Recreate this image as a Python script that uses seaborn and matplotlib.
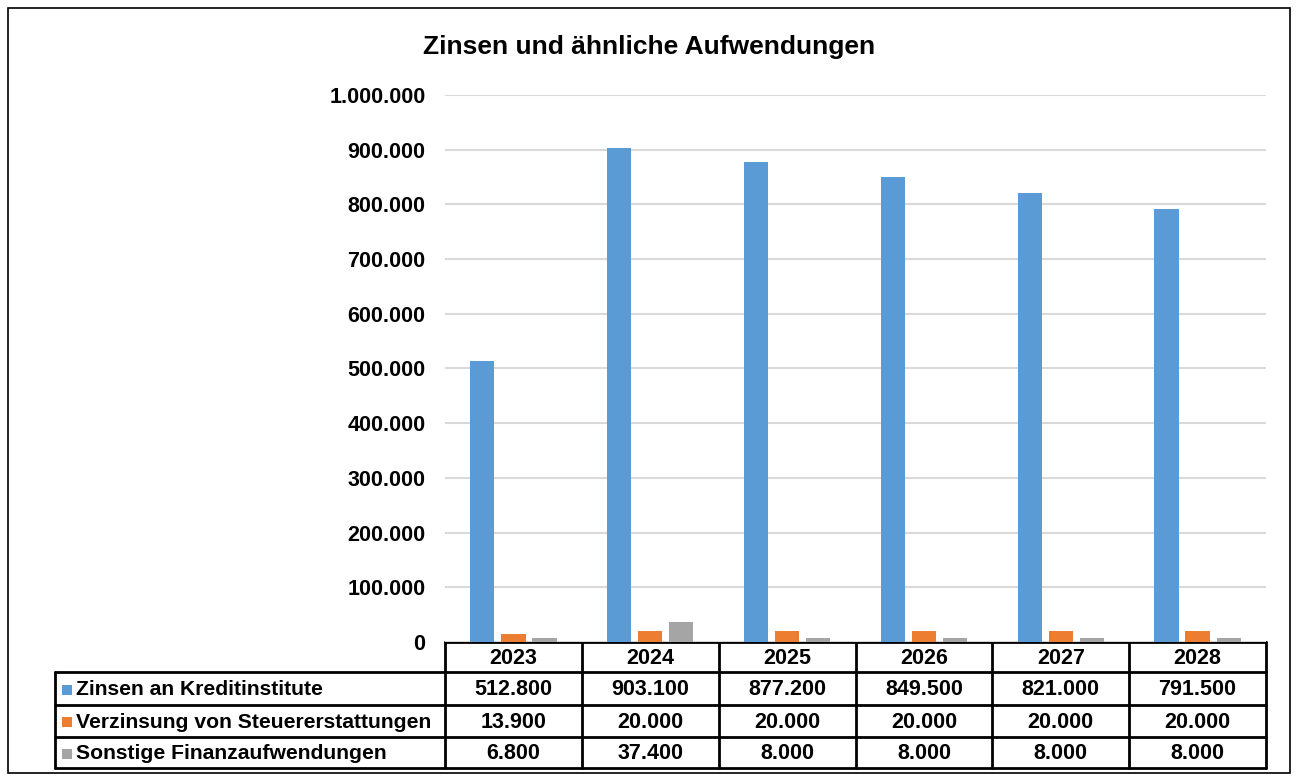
import pandas as pd
import matplotlib.pyplot as plt
import seaborn as sns
from matplotlib.patches import Rectangle

years = ["2023", "2024", "2025", "2026", "2027", "2028"]
series = ["Zinsen an Kreditinstitute", "Verzinsung von Steuererstattungen", "Sonstige Finanzaufwendungen"]
zinsen_kredit = [512800, 903100, 877200, 849500, 821000, 791500]
verzinsung_steuer = [13900, 20000, 20000, 20000, 20000, 20000]
sonstige = [6800, 37400, 8000, 8000, 8000, 8000]
colors = ["#5B9BD5", "#ED7D31", "#A5A5A5"]
title = "Zinsen und ähnliche Aufwendungen"

W, H = 1298, 776
FS = 15.5


def de_fmt(v):
    return f"{v:,.0f}".replace(",", ".")


def build_frame():
    rows = []
    for name, vals in zip(series, [zinsen_kredit, verzinsung_steuer, sonstige]):
        for y, v in zip(years, vals):
            rows.append({"Jahr": y, "Reihe": name, "Wert": v})
    return pd.DataFrame(rows)


def plot_data(df):
    sns.set_style("white")
    plt.rcParams["font.family"] = ["Liberation Sans", "DejaVu Sans"]
    plt.rcParams["text.color"] = "black"
    plt.rcParams["ytick.color"] = "black"
    fig = plt.figure(figsize=(W / 100, H / 100), dpi=100)

    # overlay in pixel coordinates for frame + table
    ov = fig.add_axes([0, 0, 1, 1])
    ov.set_xlim(0, W)
    ov.set_ylim(H, 0)
    ov.axis("off")

    left, right, bottom, top = 445, 1266, 642, 95
    ax = fig.add_axes([left / W, 1 - bottom / H, (right - left) / W, (bottom - top) / H])
    sns.barplot(data=df, x="Jahr", y="Wert", hue="Reihe", order=years, hue_order=series,
                palette=colors, width=0.68, gap=0.22, saturation=1, linewidth=0,
                legend=False, ax=ax)
    ax.set_ylim(0, 1000000)
    ax.set_xlim(-0.5, len(years) - 0.5)
    ax.set_yticks(range(0, 1000001, 100000))
    ax.set_yticklabels([de_fmt(v) for v in range(0, 1000001, 100000)],
                       fontsize=FS, fontweight="bold", color="black")
    ax.tick_params(axis="y", length=0, pad=14)
    ax.set_xticks([])
    ax.set_xlabel("")
    ax.set_ylabel("")
    ax.grid(axis="y", color="#d9d9d9", lw=1.5)
    ax.set_axisbelow(True)
    for s in ax.spines.values():
        s.set_visible(False)
    ax.patch.set_alpha(0)

    fig.text(0.5, 1 - 47 / H, title, ha="center", va="center", fontsize=19,
             fontweight="bold", color="black")

    # outer frame
    ov.add_patch(Rectangle((8, 8), 1282, 765, fill=False, ec="black", lw=1.2))

    # data table
    col_w = (right - left) / len(years)
    row_edges = [642, 672, 705, 737, 768]
    lab_left = 55
    lw = 2
    ov.plot([left, right], [row_edges[0], row_edges[0]], color="black", lw=lw)
    for r in row_edges[1:]:
        ov.plot([lab_left, right], [r, r], color="black", lw=lw)
    for i in range(len(years) + 1):
        x = left + i * col_w
        ov.plot([x, x], [row_edges[0], row_edges[-1]], color="black", lw=lw)
    ov.plot([lab_left, lab_left], [row_edges[1], row_edges[-1]], color="black", lw=lw)

    for i, y in enumerate(years):
        ov.text(left + (i + 0.5) * col_w, (row_edges[0] + row_edges[1]) / 2 + 1, y,
                ha="center", va="center", fontsize=FS, fontweight="bold", color="black")
    for j, (name, vals) in enumerate(zip(series, [zinsen_kredit, verzinsung_steuer, sonstige])):
        yc = (row_edges[j + 1] + row_edges[j + 2]) / 2 + 1
        ov.add_patch(Rectangle((62, yc - 5), 10, 10, color=colors[j], lw=0))
        ov.text(76, yc, name, ha="left", va="center", fontsize=15.2, fontweight="bold", color="black")
        for i, v in enumerate(vals):
            ov.text(left + (i + 0.5) * col_w, yc, de_fmt(v),
                    ha="center", va="center", fontsize=FS, fontweight="bold", color="black")

    fig.savefig("out.png", dpi=100, facecolor="white")


def main():
    df = build_frame()
    plot_data(df)


if __name__ == "__main__":
    main()
